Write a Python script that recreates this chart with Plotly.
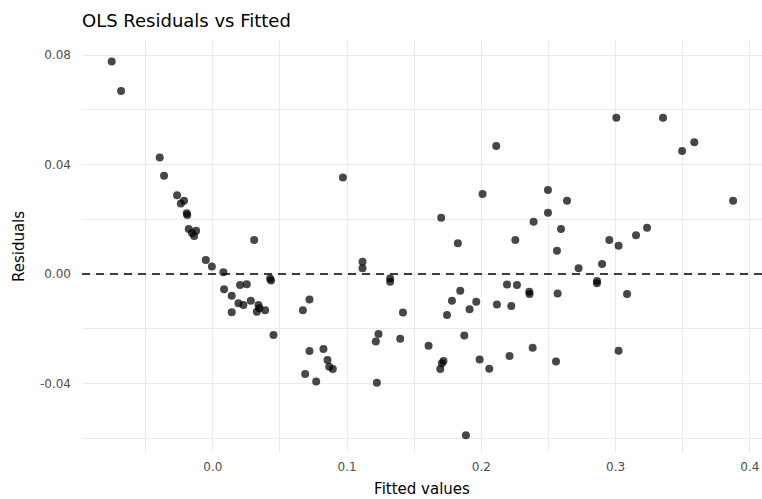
import plotly.graph_objects as go

fitted = [
    -0.0753, -0.0683, -0.0395, -0.0363, -0.0266, -0.0214, -0.0238, -0.0194, -0.0190, -0.0179,
    -0.0124, -0.0139, -0.0155, -0.0052, -0.0007, 0.0079, 0.0308, 0.0084, 0.0203, 0.0253,
    0.0427, 0.0434, 0.0141, 0.0191, 0.0228, 0.0283, 0.0141, 0.0340, 0.0347, 0.0390,
    0.0328, 0.0452, 0.0671, 0.0720, 0.0720, 0.0688, 0.0770, 0.0824, 0.0854, 0.0867,
    0.0894, 0.1115, 0.1115, 0.1321, 0.1321, 0.1416, 0.1234, 0.1214, 0.1396, 0.1222,
    0.1607, 0.1744, 0.1781, 0.1843, 0.1912, 0.1962, 0.2116, 0.2191, 0.2223, 0.1718,
    0.1706, 0.1694, 0.1873, 0.1987, 0.2059, 0.2210, 0.1885, 0.0969, 0.1701, 0.1825,
    0.2009, 0.2111, 0.2253, 0.2389, 0.2496, 0.2496, 0.2638, 0.2593, 0.2563, 0.2724,
    0.2899, 0.2953, 0.3022, 0.3152, 0.3234, 0.3005, 0.3353, 0.3495, 0.3586, 0.3875,
    0.2265, 0.2357, 0.2359, 0.2568, 0.2861, 0.2861, 0.3085, 0.2382, 0.2556, 0.3022,
]
residuals = [
    0.0776, 0.0669, 0.0426, 0.0359, 0.0288, 0.0268, 0.0258, 0.0222, 0.0216, 0.0164,
    0.0158, 0.0139, 0.0150, 0.0051, 0.0027, 0.0006, 0.0124, -0.0056, -0.0040, -0.0037,
    -0.0016, -0.0024, -0.0079, -0.0107, -0.0113, -0.0098, -0.0140, -0.0113, -0.0125, -0.0132,
    -0.0138, -0.0223, -0.0132, -0.0093, -0.0281, -0.0365, -0.0393, -0.0274, -0.0314, -0.0339,
    -0.0347, 0.0045, 0.0021, -0.0016, -0.0028, -0.0141, -0.0219, -0.0247, -0.0237, -0.0397,
    -0.0262, -0.0150, -0.0098, -0.0061, -0.0129, -0.0101, -0.0111, -0.0038, -0.0117, -0.0318,
    -0.0326, -0.0347, -0.0225, -0.0312, -0.0346, -0.0300, -0.0589, 0.0353, 0.0206, 0.0112,
    0.0292, 0.0468, 0.0124, 0.0191, 0.0307, 0.0224, 0.0268, 0.0164, 0.0085, 0.0021,
    0.0037, 0.0124, 0.0103, 0.0142, 0.0169, 0.0571, 0.0571, 0.0449, 0.0481, 0.0268,
    -0.0040, -0.0065, -0.0073, -0.0071, -0.0026, -0.0034, -0.0073, -0.0269, -0.0320, -0.0280,
]

x_tick_vals = [0.0, 0.1, 0.2, 0.3, 0.4]
x_tick_text = ["0.0", "0.1", "0.2", "0.3", "0.4"]
y_tick_vals = [-0.04, 0.0, 0.04, 0.08]
y_tick_text = ["-0.04", "0.00", "0.04", "0.08"]
reference_residual = 0.0

FONT = "DejaVu Sans, Liberation Sans, sans-serif"
GRID = "#ebebeb"

fig = go.Figure()
fig.add_trace(go.Scatter(
    x=fitted, y=residuals, mode="markers",
    marker=dict(color="rgba(0,0,0,0.72)", size=8, line=dict(width=0)),
    showlegend=False, hoverinfo="x+y",
))

fig.add_hline(y=reference_residual, line=dict(color="black", width=1.5, dash="8px,6px"))

fig.update_layout(
    width=762, height=499,
    margin=dict(l=82, r=0, t=40, b=46),
    paper_bgcolor="white", plot_bgcolor="white",
    font=dict(family=FONT, color="#000000"),
    title=dict(text="OLS Residuals vs Fitted", x=82 / 762, xanchor="left",
               y=1 - 21 / 499, yanchor="middle",
               font=dict(size=18, color="#000000", family=FONT)),
    xaxis=dict(
        range=[-0.0974, 0.409], tickvals=x_tick_vals, ticktext=x_tick_text,
        showgrid=True, gridcolor=GRID, gridwidth=1.2, zeroline=False, showline=False,
        ticks="", ticklabelstandoff=5, automargin=False,
        tickfont=dict(size=12, color="#4d4d4d", family=FONT),
        minor=dict(dtick=0.05, tick0=-0.05, showgrid=True, gridcolor=GRID, gridwidth=0.6),
        title=dict(text="Fitted values", font=dict(size=15, color="#000000", family=FONT),
                   standoff=10),
    ),
    yaxis=dict(
        range=[-0.0654, 0.0855], tickvals=y_tick_vals, ticktext=y_tick_text,
        showgrid=True, gridcolor=GRID, gridwidth=1.2, zeroline=False, showline=False,
        ticks="", ticklabelstandoff=10, automargin=False,
        tickfont=dict(size=12, color="#4d4d4d", family=FONT),
        minor=dict(dtick=0.04, tick0=-0.06, showgrid=True, gridcolor=GRID, gridwidth=0.6),
        title=dict(text="Residuals", font=dict(size=15, color="#000000", family=FONT),
                   standoff=11),
    ),
)

fig.write_html("out.html", config={"displayModeBar": False},
               post_script="document.body.style.margin='0';")
